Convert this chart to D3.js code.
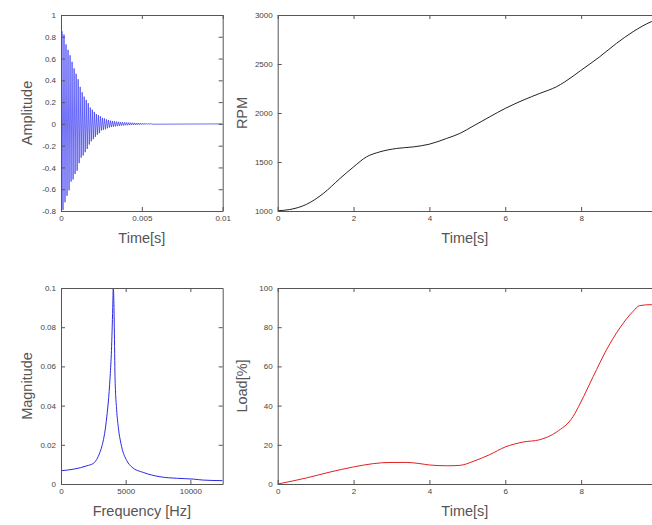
<!DOCTYPE html>
<html>
<head>
<meta charset="utf-8">
<script src="https://cdn.jsdelivr.net/npm/d3@7"></script>
<style>
  body { margin: 0; background: #fff; }
  svg { display: block; }
  .axis text { font-family: "Liberation Sans", Arial, sans-serif; font-size: 8px; fill: #444; }
  .axis path, .axis line { stroke: #555; }
  .label { font-family: "Liberation Sans", Arial, sans-serif; font-size: 14.5px; fill: #555; }
</style>
</head>
<body>
<script>
// impulse response: alternating peaks of the decaying ringing
const halfPeriod = 0.0000625;
const firstPeak = 0.00006;
const ringPeaks = [
  0.85, -0.79, 0.82, -0.72, 0.73, -0.66, 0.68, -0.61, 0.63, -0.53,
  0.57, -0.51, 0.51, -0.46, 0.46, -0.43, 0.41, -0.36, 0.34, -0.31,
  0.29, -0.29, 0.25, -0.26, 0.22, -0.23, 0.19, -0.19, 0.15, -0.16,
  0.13, -0.14, 0.11, -0.12, 0.09, -0.10, 0.08, -0.085, 0.07, -0.06,
  0.055, -0.055, 0.05, -0.05, 0.042, -0.04, 0.036, -0.034, 0.03, -0.029,
  0.027, -0.026, 0.024, -0.023, 0.021, -0.02, 0.019, -0.018, 0.017, -0.016,
  0.015, -0.015, 0.014, -0.013, 0.013, -0.012, 0.012, -0.011, 0.011, -0.010,
  0.010, -0.009, 0.009, -0.009, 0.008, -0.008, 0.008, -0.007, 0.007, -0.007,
  0.006, -0.006, 0.006, -0.005, 0.005, -0.005, 0.004, -0.004, 0.004, -0.003
];

// spectrum
const freqHz = [0, 500, 1000, 1500, 2000, 2500, 3000, 3150, 3500, 3800, 3900, 4000, 4040, 4080,
  4120, 4175, 4300, 4430, 4690, 5080, 5500, 6360, 7650, 9000, 10230, 11000, 12500];
const magnitude = [0.0068, 0.0071, 0.0076, 0.0083, 0.0093, 0.0105, 0.016, 0.019, 0.032, 0.055, 0.068, 0.09, 0.1, 0.095,
  0.08, 0.055, 0.038, 0.029, 0.019, 0.012, 0.0085, 0.0059, 0.0037, 0.0029, 0.0025, 0.002, 0.0017];

// engine speed
const rpmTime = [0, 0.32, 0.76, 1.2, 1.64, 2.0, 2.34, 2.69, 3.13, 3.57, 4.0, 4.45, 4.8, 5.15, 5.59,
  6.0, 6.47, 6.91, 7.35, 7.79, 7.98, 8.49, 8.93, 9.37, 9.85, 10];
const rpm = [1003, 1015, 1068, 1178, 1331, 1450, 1552, 1603, 1638, 1654, 1682, 1740, 1791, 1866, 1961,
  2047, 2131, 2200, 2268, 2377, 2431, 2574, 2710, 2830, 2932, 2955];

// load
const loadTime = [0, 0.76, 1.38, 2.0, 2.52, 2.96, 3.39, 3.75, 4.0, 4.45, 4.8, 5.15, 5.59, 6.0, 6.47,
  6.91, 7.35, 7.79, 7.98, 8.32, 8.67, 9.02, 9.37, 9.54, 9.85, 10];
const load = [0, 3.1, 6.1, 8.7, 10.4, 11.0, 11.0, 10.4, 9.7, 9.3, 9.5, 11.5, 15, 18.9, 21.4,
  22.6, 26.5, 34.5, 41.3, 54.9, 68.5, 79.6, 88.1, 91, 91.5, 91];

const ampTicks = [-0.8, -0.6, -0.4, -0.2, 0, 0.2, 0.4, 0.6, 0.8, 1];
const ampTimeTicks = [0, 0.005, 0.01];
const magTicks = [0, 0.02, 0.04, 0.06, 0.08, 0.1];
const freqTicks = [0, 5000, 10000];
const rpmTicks = [1000, 1500, 2000, 2500, 3000];
const loadTicks = [0, 20, 40, 60, 80, 100];
const timeTicks = [0, 2, 4, 6, 8];

const ringData = [{ t: 0, v: 0 }]
  .concat(ringPeaks.map((v, i) => ({ t: firstPeak + i * halfPeriod, v })))
  .concat([{ t: 0.01, v: 0 }]);

const svg = d3.select("body").append("svg")
  .attr("width", 652)
  .attr("height", 525);

let clipId = 0;

const drawPanel = p => {
  const x = d3.scaleLinear().domain(p.xDomain).range([p.left, p.right]);
  const y = d3.scaleLinear().domain(p.yDomain).range([p.bottom, p.top]);
  const g = svg.append("g");

  const id = "clip" + clipId++;
  g.append("clipPath").attr("id", id)
    .append("rect")
    .attr("x", p.left).attr("y", p.top - 1)
    .attr("width", p.right - p.left).attr("height", p.bottom - p.top + 2);

  g.append("path")
    .datum(p.data)
    .attr("clip-path", `url(#${id})`)
    .attr("fill", "none")
    .attr("stroke", p.color)
    .attr("stroke-width", p.width || 1)
    .attr("d", d3.line().x(d => x(d[0])).y(d => y(d[1])).curve(p.curve || d3.curveLinear));

  g.append("g").attr("class", "axis")
    .attr("transform", `translate(0,${p.bottom})`)
    .call(d3.axisBottom(x).tickValues(p.xTicks).tickFormat(p.xFmt).tickSizeInner(-4).tickSizeOuter(0).tickPadding(4));
  g.append("g").attr("class", "axis")
    .attr("transform", `translate(0,${p.top})`)
    .call(d3.axisTop(x).tickValues(p.xTicks).tickFormat("").tickSizeInner(-4).tickSizeOuter(0));
  g.append("g").attr("class", "axis")
    .attr("transform", `translate(${p.left},0)`)
    .call(d3.axisLeft(y).tickValues(p.yTicks).tickFormat(p.yFmt).tickSizeInner(-4).tickSizeOuter(0).tickPadding(5));
  g.append("g").attr("class", "axis")
    .attr("transform", `translate(${p.right},0)`)
    .call(d3.axisRight(y).tickValues(p.yTicks).tickFormat("").tickSizeInner(-4).tickSizeOuter(0));

  g.append("text").attr("class", "label")
    .attr("x", (p.left + Math.min(p.right, 652)) / 2)
    .attr("y", p.bottom + 32)
    .attr("text-anchor", "middle")
    .text(p.xLabel);

  g.append("text").attr("class", "label")
    .attr("transform", `translate(${p.yLabelX},${(p.top + p.bottom) / 2}) rotate(-90)`)
    .attr("text-anchor", "middle")
    .text(p.yLabel);
};

const fmt = d => String(d);

drawPanel({
  left: 61, right: 222.7, top: 15, bottom: 211,
  xDomain: [0, 0.01], yDomain: [-0.8, 1],
  xTicks: ampTimeTicks, yTicks: ampTicks, xFmt: fmt, yFmt: fmt,
  data: ringData.map(d => [d.t, d.v]),
  color: "#3434f4", width: 0.7,
  xLabel: "Time[s]", yLabel: "Amplitude", yLabelX: 32
});

drawPanel({
  left: 277.7, right: 657, top: 15, bottom: 211,
  xDomain: [0, 10], yDomain: [1000, 3000],
  xTicks: timeTicks, yTicks: rpmTicks, xFmt: fmt, yFmt: fmt,
  data: rpmTime.map((t, i) => [t, rpm[i]]),
  color: "#222", width: 1, curve: d3.curveMonotoneX,
  xLabel: "Time[s]", yLabel: "RPM", yLabelX: 247
});

drawPanel({
  left: 61, right: 222.7, top: 288, bottom: 484,
  xDomain: [0, 12500], yDomain: [0, 0.1],
  xTicks: freqTicks, yTicks: magTicks, xFmt: fmt, yFmt: fmt,
  data: freqHz.map((f, i) => [f, magnitude[i]]),
  color: "#2a2ae0", width: 1, curve: d3.curveMonotoneX,
  xLabel: "Frequency [Hz]", yLabel: "Magnitude", yLabelX: 32
});

drawPanel({
  left: 277.7, right: 657, top: 288, bottom: 484,
  xDomain: [0, 10], yDomain: [0, 100],
  xTicks: timeTicks, yTicks: loadTicks, xFmt: fmt, yFmt: fmt,
  data: loadTime.map((t, i) => [t, load[i]]),
  color: "#e02020", width: 1, curve: d3.curveMonotoneX,
  xLabel: "Time[s]", yLabel: "Load[%]", yLabelX: 247
});
</script>
</body>
</html>
